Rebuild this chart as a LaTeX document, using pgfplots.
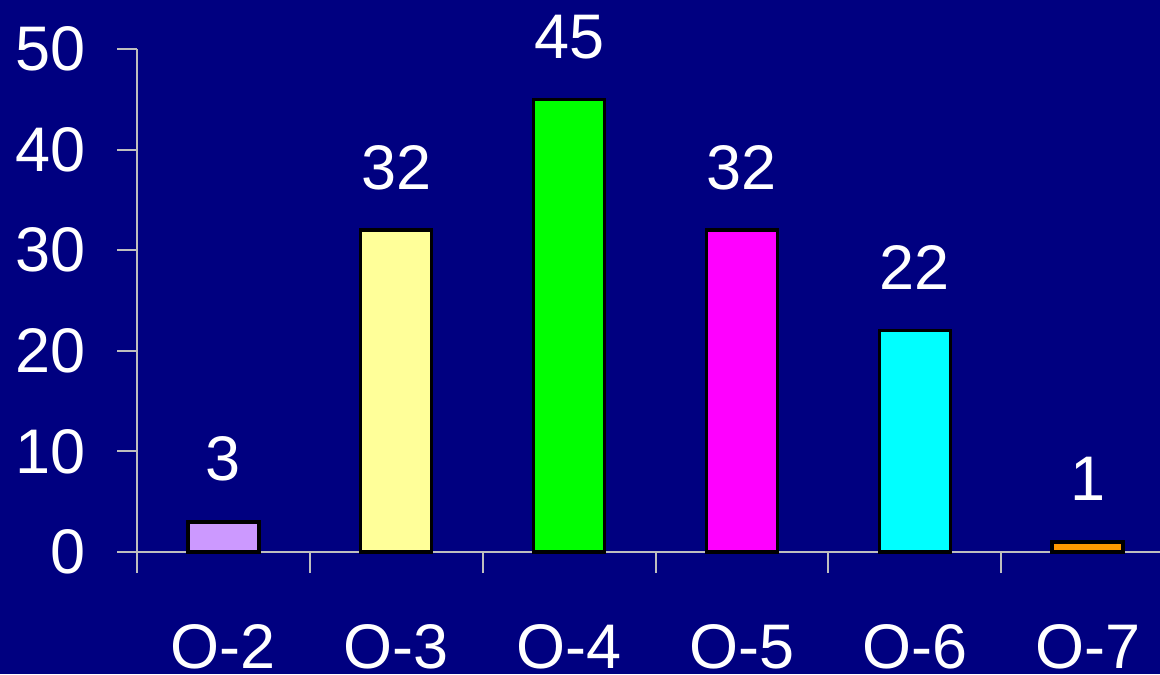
\documentclass[border=0pt]{standalone}
\usepackage{pgfplots}
\pgfplotsset{compat=1.18}
\usepackage{fontspec}
\setmainfont{Liberation Sans}
\definecolor{bg}{RGB}{0,0,128}
\definecolor{axgray}{RGB}{190,190,190}
\definecolor{cA}{RGB}{204,153,255}
\definecolor{cB}{RGB}{255,255,153}
\definecolor{cC}{RGB}{0,255,0}
\definecolor{cD}{RGB}{255,0,255}
\definecolor{cE}{RGB}{0,255,255}
\definecolor{cF}{RGB}{255,153,0}
\begin{document}
\begin{tikzpicture}
\useasboundingbox (0,0) rectangle (580pt,337pt);
\clip (0,0) rectangle (580pt,337pt);
\fill[bg] (0,0) rectangle (580pt,337pt);
\begin{axis}[
  at={(68.5pt,61pt)}, anchor=south west,
  scale only axis,
  width=518.5pt, height=251.5pt,
  xmin=-0.5, xmax=5.5, ymin=0, ymax=50,
  axis x line*=bottom, axis y line*=left,
  axis line style={draw=axgray, line width=1pt},
  ybar, bar width=35.5pt, bar shift=0pt,
  ytick={0,10,...,50},
  xtick={0,...,5},
  xticklabels={O-2,O-3,O-4,O-5,O-6,O-7},
  minor xtick={-0.5,0.5,...,5.5},
  tick align=outside,
  major tick length=10pt,
  minor tick length=10.5pt,
  xtick style={draw=none},
  minor x tick style={draw=axgray, line width=1pt},
  y tick style={draw=axgray, line width=1pt},
  /pgf/number format/assume math mode=true,
  tick label style={font=\fontsize{31.5pt}{38pt}\selectfont, text=white},
  xticklabel style={anchor=base, yshift=-48pt, inner sep=0pt},
  yticklabel style={anchor=east, inner sep=0pt, xshift=-15.5pt},
  nodes near coords,
  every node near coord/.append style={font=\fontsize{31.5pt}{38pt}\selectfont, text=white, anchor=base, yshift=20.5pt, inner sep=0pt},
  every axis plot/.append style={draw=black, line width=1.7pt},
  clip=false,
]
\addplot[fill=cA] coordinates {(0,3)};
\addplot[fill=cB] coordinates {(1,32)};
\addplot[fill=cC] coordinates {(2,45)};
\addplot[fill=cD] coordinates {(3,32)};
\addplot[fill=cE] coordinates {(4,22)};
\addplot[fill=cF] coordinates {(5,1)};
\end{axis}
\end{tikzpicture}
\end{document}
